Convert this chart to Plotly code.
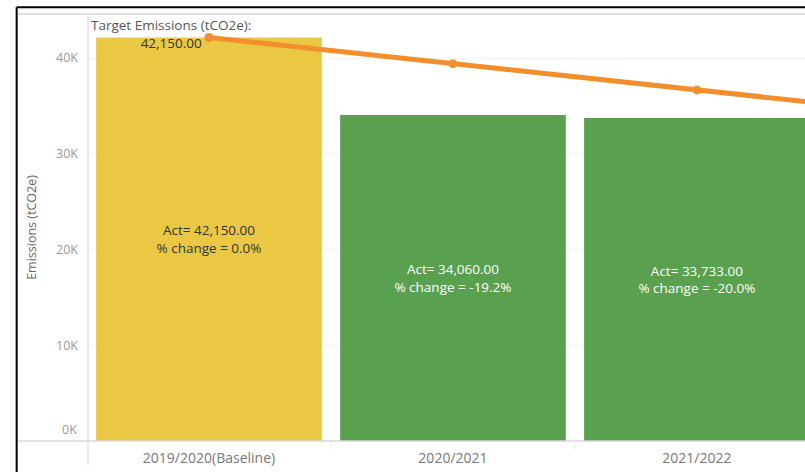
import plotly.graph_objects as go

categories = ["2019/2020(Baseline)", "2020/2021", "2021/2022"]
actual = [42150.00, 34060.00, 33733.00]
pct_change = [0.0, -19.2, -20.0]
bar_colors = ["#EBC844", "#59A14F", "#59A14F"]
text_colors = ["#333333", "#FFFFFF", "#FFFFFF"]

target_categories = ["2019/2020(Baseline)", "2020/2021", "2021/2022", "2022/2023"]
target = [42150.00, 39410.00, 36670.00, 33930.00]

y_ticks = [10000, 20000, 30000, 40000]
y_tick_labels = ["10K", "20K", "30K", "40K"]
y_zero_label = "0K"

FONT = "Open Sans"

bar_text = [f"Act= {a:,.2f}<br>% change = {p:.1f}%" for a, p in zip(actual, pct_change)]

fig = go.Figure()
fig.add_trace(go.Bar(
    x=categories, y=actual, width=0.925,
    marker=dict(color=bar_colors, line=dict(width=0)),
    text=bar_text, textposition="inside", insidetextanchor="middle",
    textfont=dict(family=FONT, size=13.5, color=text_colors),
    hoverinfo="skip", showlegend=False,
))
fig.add_trace(go.Scatter(
    x=target_categories, y=target, mode="lines+markers",
    line=dict(color="#F28E2B", width=5),
    marker=dict(color="#F28E2B", size=9),
    showlegend=False, cliponaxis=True,
))

fig.add_annotation(
    x=target_categories[0], y=target[0], xref="x", yref="y",
    text=f"<span style='color:#555555'>Target Emissions (tCO2e):</span><br>{target[0]:,.2f}",
    showarrow=False, xshift=-38, yshift=3, yanchor="middle", align="center",
    font=dict(family=FONT, size=13.5, color="#333333"),
)
# zero tick label (drawn above the baseline, as in the original)
fig.add_annotation(
    x=0, y=0, xref="paper", yref="y", text=y_zero_label, showarrow=False,
    xanchor="right", yanchor="bottom", xshift=-9, yshift=1,
    font=dict(family=FONT, size=12.5, color="#999999"),
)

# frame / separators
line_gray = "#D9D9D9"
fig.add_shape(type="line", xref="paper", yref="paper", x0=-0.099, x1=1.0, y0=1.0, y1=1.0,
              line=dict(color="#E0E0E0", width=2))
fig.add_shape(type="line", xref="paper", yref="paper", x0=-0.099, x1=1.0, y0=0, y1=0,
              line=dict(color=line_gray, width=1.5))
fig.add_shape(type="line", xref="paper", yref="paper", x0=0, x1=0, y0=-0.055, y1=1.0,
              line=dict(color="#E3E3E3", width=1.5))
for sep in [0.5, 1.5]:
    fig.add_shape(type="line", xref="x", yref="paper", x0=sep, x1=sep, y0=0, y1=-0.02,
                  line=dict(color="#E8E8E8", width=1))
# black screenshot border
fig.add_shape(type="line", xref="paper", yref="paper", x0=-0.0995, x1=-0.0995, y0=-0.1, y1=1.016,
              line=dict(color="#000000", width=2))
fig.add_shape(type="line", xref="paper", yref="paper", x0=-0.0995, x1=1.0, y0=1.016, y1=1.016,
              line=dict(color="#000000", width=2))

fig.update_layout(
    width=805, height=472,
    margin=dict(l=88, r=0, t=14, b=31),
    plot_bgcolor="white", paper_bgcolor="white",
    font=dict(family=FONT, color="#777777"),
    bargap=0.075,
)
fig.update_xaxes(
    range=[-0.496, 2.443], showgrid=False, zeroline=False, showline=False,
    ticks="", tickfont=dict(family=FONT, size=14, color="#777777"),
    ticklabelstandoff=7,
)
fig.update_yaxes(
    range=[0, 44600], tickvals=y_ticks, ticktext=y_tick_labels,
    showgrid=True, gridcolor="#F3F3F3", gridwidth=1, zeroline=False, showline=False,
    ticks="", tickfont=dict(family=FONT, size=12.5, color="#999999"),
    ticklabelstandoff=9,
    title=dict(text="Emissions (tCO2e)", font=dict(family=FONT, size=12.5, color="#666666"), standoff=16),
)

fig.write_html(
    "out.html",
    config={"displayModeBar": False},
    post_script="document.body.style.margin='0';document.body.style.padding='0';",
)
